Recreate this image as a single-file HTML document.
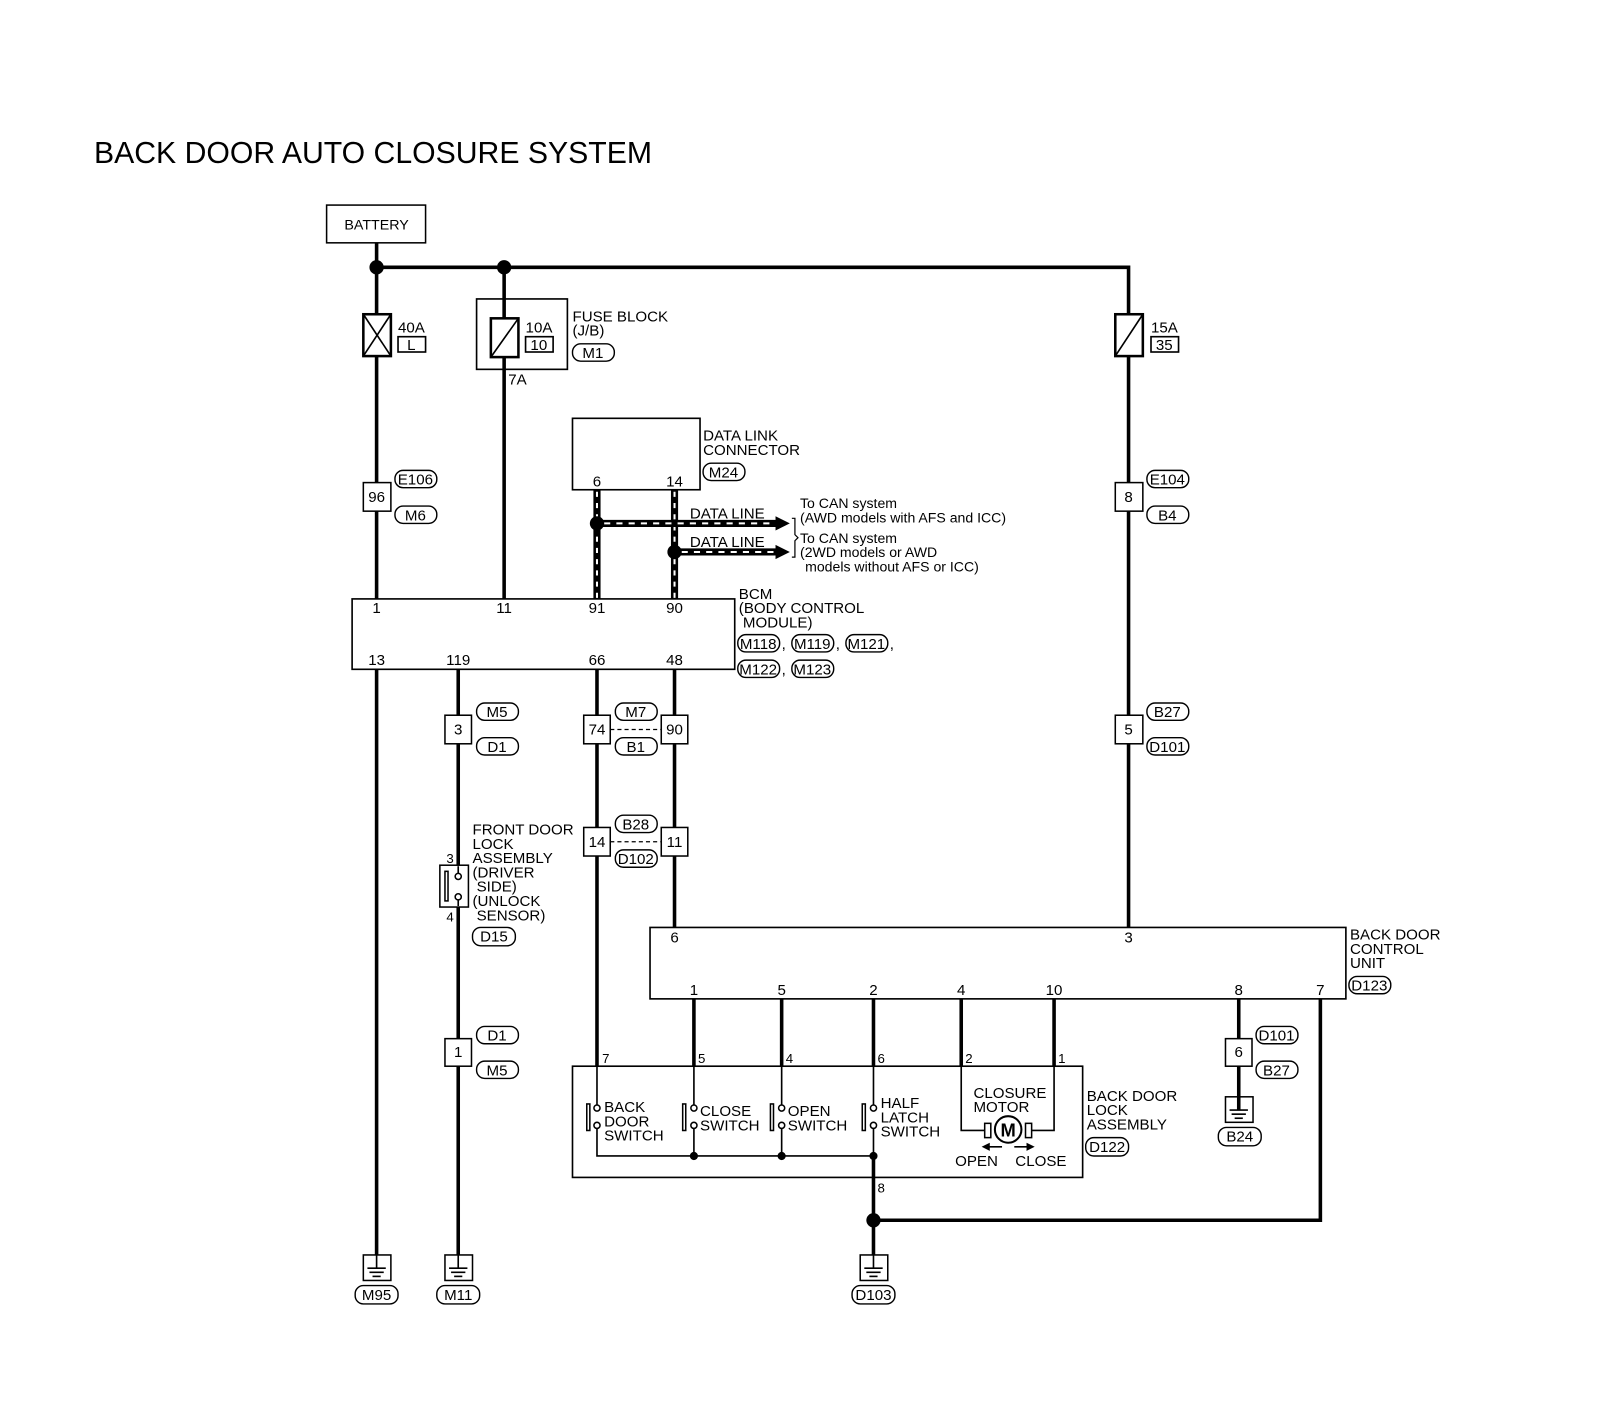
<!DOCTYPE html>
<html><head><meta charset="utf-8"><style>
html,body{margin:0;padding:0;background:#fff;}
svg{display:block;font-family:"Liberation Sans",Arial,sans-serif;}
text{font-size:14.8px;fill:#000;}
.t{stroke:#000;stroke-width:3.5;fill:none}
.n{stroke:#000;stroke-width:1.6;fill:none}
.b{stroke:#000;stroke-width:1.5;fill:#fff}
.o{stroke:#000;stroke-width:1.4;fill:#fff}
.c{text-anchor:middle}
</style></head><body>
<svg width="1598" height="1408" viewBox="0 0 1566 1380" xmlns="http://www.w3.org/2000/svg">
<text x="92" y="160" style="font-size:29.6px">BACK DOOR AUTO CLOSURE SYSTEM</text>

<!-- Battery -->
<rect x="320" y="201" width="97" height="37" class="b"/>
<text x="369" y="225" class="c" style="font-size:14px">BATTERY</text>
<line x1="369" y1="238" x2="369" y2="262" class="t"/>
<polyline points="369,262 1106,262 1106,307" class="t"/>
<circle cx="369" cy="262" r="7"/><circle cx="494" cy="262" r="7"/>

<!-- 40A fuse -->
<line x1="369" y1="262" x2="369" y2="307" class="t"/>
<rect x="356" y="308" width="27" height="41" class="b" style="stroke-width:2.5"/>
<line x1="356" y1="308" x2="383" y2="349" class="n"/><line x1="383" y1="308" x2="356" y2="349" class="n"/>
<text x="390" y="326">40A</text>
<rect x="390" y="330" width="27" height="15" class="n"/>
<text x="403" y="343" class="c">L</text>
<line x1="369" y1="349" x2="369" y2="473" class="t"/>
<!-- conn 96 -->
<rect x="356" y="473" width="27" height="28" class="b"/>
<text x="369" y="492" class="c">96</text>
<rect x="387" y="461" width="41" height="17" rx="8" class="o"/><text x="407" y="475" class="c">E106</text>
<rect x="387" y="496" width="41" height="17" rx="8" class="o"/><text x="407" y="510" class="c">M6</text>
<line x1="369" y1="501" x2="369" y2="587" class="t"/>

<!-- fuse block -->
<line x1="494" y1="262" x2="494" y2="312" class="t"/>
<rect x="467" y="293" width="89" height="69" class="n"/>
<rect x="481" y="312" width="27" height="38" class="b" style="stroke-width:2.5"/>
<line x1="481" y1="350" x2="508" y2="312" class="n"/>
<text x="515" y="326">10A</text>
<rect x="515" y="330" width="27" height="15" class="n"/><text x="528" y="343" class="c">10</text>
<text x="561" y="315">FUSE BLOCK</text><text x="561" y="329">(J/B)</text>
<rect x="561" y="337" width="41" height="17" rx="8" class="o"/><text x="581" y="351" class="c">M1</text>
<line x1="494" y1="350" x2="494" y2="587" class="t"/>
<text x="498" y="377">7A</text>

<!-- 15A -->
<rect x="1093" y="308" width="27" height="41" class="b" style="stroke-width:2.5"/>
<line x1="1093" y1="349" x2="1120" y2="308" class="n"/>
<text x="1128" y="326">15A</text>
<rect x="1128" y="330" width="27" height="15" class="n"/><text x="1141" y="343" class="c">35</text>
<line x1="1106" y1="349" x2="1106" y2="473" class="t"/>
<rect x="1093" y="473" width="27" height="28" class="b"/><text x="1106" y="492" class="c">8</text>
<rect x="1124" y="461" width="41" height="17" rx="8" class="o"/><text x="1144" y="475" class="c">E104</text>
<rect x="1124" y="496" width="41" height="17" rx="8" class="o"/><text x="1144" y="510" class="c">B4</text>
<line x1="1106" y1="501" x2="1106" y2="701" class="t"/>
<rect x="1093" y="701" width="27" height="28" class="b"/><text x="1106" y="720" class="c">5</text>
<rect x="1124" y="689" width="41" height="17" rx="8" class="o"/><text x="1144" y="703" class="c">B27</text>
<rect x="1124" y="723" width="41" height="17" rx="8" class="o"/><text x="1144" y="737" class="c">D101</text>
<line x1="1106" y1="729" x2="1106" y2="909" class="t"/>

<!-- DLC -->
<rect x="561" y="410" width="125" height="70" class="n"/>
<text x="585" y="477" class="c">6</text><text x="661" y="477" class="c">14</text>
<text x="689" y="432">DATA LINK</text><text x="689" y="446">CONNECTOR</text>
<rect x="689" y="454" width="41" height="17" rx="8" class="o"/><text x="709" y="468" class="c">M24</text>

<!-- data lines -->
<g>
<line x1="585" y1="480" x2="585" y2="587" stroke="#000" stroke-width="7"/>
<line x1="585" y1="482" x2="585" y2="587" stroke="#fff" stroke-width="2" stroke-dasharray="5,6"/>
<line x1="661" y1="480" x2="661" y2="587" stroke="#000" stroke-width="7"/>
<line x1="661" y1="482" x2="661" y2="587" stroke="#fff" stroke-width="2" stroke-dasharray="5,6"/>
<line x1="585" y1="513" x2="762" y2="513" stroke="#000" stroke-width="7"/>
<line x1="592" y1="513" x2="760" y2="513" stroke="#fff" stroke-width="2" stroke-dasharray="6,6"/>
<line x1="661" y1="541" x2="762" y2="541" stroke="#000" stroke-width="7"/>
<line x1="668" y1="541" x2="760" y2="541" stroke="#fff" stroke-width="2" stroke-dasharray="6,6"/>
<polygon points="760,506 774,513 760,520"/><polygon points="760,534 774,541 760,548"/>
<circle cx="585" cy="513" r="7"/><circle cx="661" cy="541" r="7"/>
</g>
<text x="676" y="508">DATA LINE</text><text x="676" y="536">DATA LINE</text>
<path d="M776,508 L779,508 L779,524 L782,527 L779,530 L779,546 L776,546" class="n" style="stroke-width:1.2"/>
<text x="784" y="498" style="font-size:13.8px">To CAN system</text>
<text x="784" y="512" style="font-size:13.8px">(AWD models with AFS and ICC)</text>
<text x="784" y="532" style="font-size:13.8px">To CAN system</text>
<text x="784" y="546" style="font-size:13.8px">(2WD models or AWD</text>
<text x="789" y="560" style="font-size:13.8px">models without AFS or ICC)</text>

<!-- BCM -->
<rect x="345" y="587" width="375" height="69" class="n"/>
<text x="369" y="601" class="c">1</text><text x="494" y="601" class="c">11</text><text x="585" y="601" class="c">91</text><text x="661" y="601" class="c">90</text>
<text x="369" y="652" class="c">13</text><text x="449" y="652" class="c">119</text><text x="585" y="652" class="c">66</text><text x="661" y="652" class="c">48</text>
<text x="724" y="587">BCM</text><text x="724" y="601">(BODY CONTROL</text><text x="728" y="615">MODULE)</text>
<rect x="723" y="622" width="41" height="17" rx="8" class="o"/><text x="743" y="636" class="c">M118</text>
<text x="766" y="636">,</text>
<rect x="776" y="622" width="41" height="17" rx="8" class="o"/><text x="796" y="636" class="c">M119</text>
<text x="819" y="636">,</text>
<rect x="829" y="622" width="41" height="17" rx="8" class="o"/><text x="849" y="636" class="c">M121</text>
<text x="872" y="636">,</text>
<rect x="723" y="647" width="41" height="17" rx="8" class="o"/><text x="743" y="661" class="c">M122</text>
<text x="766" y="661">,</text>
<rect x="776" y="647" width="41" height="17" rx="8" class="o"/><text x="796" y="661" class="c">M123</text>

<!-- left ground 13 -->
<line x1="369" y1="656" x2="369" y2="1240" class="t"/>
<rect x="356" y="1230" width="27" height="25" class="b"/>
<line x1="369" y1="1230" x2="369" y2="1243" class="n"/>
<line x1="360" y1="1243" x2="378" y2="1243" class="n"/><line x1="362" y1="1247" x2="376" y2="1247" class="n"/><line x1="365" y1="1251" x2="373" y2="1251" class="n"/>
<rect x="348" y="1260" width="42" height="18" rx="8" class="o"/><text x="369" y="1274" class="c">M95</text>

<!-- 119 line -->
<line x1="449" y1="656" x2="449" y2="701" class="t"/>
<rect x="436" y="701" width="26" height="28" class="b"/><text x="449" y="720" class="c">3</text>
<rect x="467" y="689" width="41" height="17" rx="8" class="o"/><text x="487" y="703" class="c">M5</text>
<rect x="467" y="723" width="41" height="17" rx="8" class="o"/><text x="487" y="737" class="c">D1</text>
<line x1="449" y1="729" x2="449" y2="1018" class="t"/>
<rect x="431" y="848" width="28" height="41" class="b"/>
<rect x="436" y="854" width="3" height="29" class="n" style="stroke-width:1.5"/>
<line x1="449" y1="849" x2="449" y2="888" stroke="#fff" stroke-width="5"/>
<line x1="449" y1="849" x2="449" y2="856" class="n"/><line x1="449" y1="882" x2="449" y2="888" class="n"/>
<circle cx="449" cy="859" r="3" class="b"/><circle cx="449" cy="879" r="3" class="b"/>
<text x="441" y="846" class="c" style="font-size:13px">3</text><text x="441" y="903" class="c" style="font-size:13px">4</text>
<text x="463" y="818">FRONT DOOR</text><text x="463" y="832">LOCK</text><text x="463" y="846">ASSEMBLY</text>
<text x="463" y="860">(DRIVER</text><text x="467" y="874">SIDE)</text><text x="463" y="888">(UNLOCK</text><text x="467" y="902">SENSOR)</text>
<rect x="463" y="909" width="42" height="18" rx="8" class="o"/><text x="484" y="923" class="c">D15</text>
<rect x="436" y="1018" width="26" height="27" class="b"/><text x="449" y="1036" class="c">1</text>
<rect x="467" y="1006" width="41" height="17" rx="8" class="o"/><text x="487" y="1020" class="c">D1</text>
<rect x="467" y="1040" width="41" height="17" rx="8" class="o"/><text x="487" y="1054" class="c">M5</text>
<line x1="449" y1="1045" x2="449" y2="1240" class="t"/>
<rect x="436" y="1230" width="27" height="25" class="b"/>
<line x1="449" y1="1230" x2="449" y2="1243" class="n"/>
<line x1="440" y1="1243" x2="458" y2="1243" class="n"/><line x1="442" y1="1247" x2="456" y2="1247" class="n"/><line x1="445" y1="1251" x2="453" y2="1251" class="n"/>
<rect x="428" y="1260" width="42" height="18" rx="8" class="o"/><text x="449" y="1274" class="c">M11</text>

<!-- 66 & 48 -->
<line x1="585" y1="656" x2="585" y2="1045" class="t"/>
<line x1="661" y1="656" x2="661" y2="909" class="t"/>
<rect x="572" y="701" width="26" height="28" class="b"/><text x="585" y="720" class="c">74</text>
<rect x="648" y="701" width="26" height="28" class="b"/><text x="661" y="720" class="c">90</text>
<line x1="598" y1="715" x2="648" y2="715" class="n" style="stroke-dasharray:4,3;stroke-width:1.3"/>
<rect x="603" y="689" width="41" height="17" rx="8" class="o"/><text x="623" y="703" class="c">M7</text>
<rect x="603" y="723" width="41" height="17" rx="8" class="o"/><text x="623" y="737" class="c">B1</text>
<rect x="572" y="811" width="26" height="28" class="b"/><text x="585" y="830" class="c">14</text>
<rect x="648" y="811" width="26" height="28" class="b"/><text x="661" y="830" class="c">11</text>
<line x1="598" y1="825" x2="648" y2="825" class="n" style="stroke-dasharray:4,3;stroke-width:1.3"/>
<rect x="603" y="799" width="41" height="17" rx="8" class="o"/><text x="623" y="813" class="c">B28</text>
<rect x="603" y="833" width="41" height="17" rx="8" class="o"/><text x="623" y="847" class="c">D102</text>

<!-- BDCU -->
<rect x="637" y="909" width="682" height="70" class="n"/>
<text x="661" y="924" class="c">6</text><text x="1106" y="924" class="c">3</text>
<text x="680" y="975" class="c">1</text><text x="766" y="975" class="c">5</text><text x="856" y="975" class="c">2</text><text x="942" y="975" class="c">4</text><text x="1033" y="975" class="c">10</text><text x="1214" y="975" class="c">8</text><text x="1294" y="975" class="c">7</text>
<text x="1323" y="921">BACK DOOR</text><text x="1323" y="935">CONTROL</text><text x="1323" y="949">UNIT</text>
<rect x="1322" y="957" width="41" height="17" rx="8" class="o"/><text x="1342" y="971" class="c">D123</text>

<!-- pin 8 ground -->
<line x1="1214" y1="979" x2="1214" y2="1085" class="t"/>
<rect x="1201" y="1018" width="26" height="27" class="b"/><text x="1214" y="1036" class="c">6</text>
<rect x="1231" y="1006" width="41" height="17" rx="8" class="o"/><text x="1251" y="1020" class="c">D101</text>
<rect x="1231" y="1040" width="41" height="17" rx="8" class="o"/><text x="1251" y="1054" class="c">B27</text>
<rect x="1201" y="1075" width="27" height="25" class="b"/>
<line x1="1214" y1="1075" x2="1214" y2="1088" class="t"/>
<line x1="1205" y1="1088" x2="1223" y2="1088" class="n"/><line x1="1207" y1="1092" x2="1221" y2="1092" class="n"/><line x1="1210" y1="1096" x2="1218" y2="1096" class="n"/>
<rect x="1194" y="1105" width="42" height="18" rx="8" class="o"/><text x="1215" y="1119" class="c">B24</text>

<!-- lock assembly -->
<line x1="680" y1="979" x2="680" y2="1045" class="t"/>
<line x1="766" y1="979" x2="766" y2="1045" class="t"/>
<line x1="856" y1="979" x2="856" y2="1045" class="t"/>
<line x1="942" y1="979" x2="942" y2="1045" class="t"/>
<line x1="1033" y1="979" x2="1033" y2="1045" class="t"/>
<rect x="561" y="1045" width="500" height="109" class="n"/>
<text x="590" y="1042" style="font-size:13px">7</text><text x="684" y="1042" style="font-size:13px">5</text><text x="770" y="1042" style="font-size:13px">4</text><text x="860" y="1042" style="font-size:13px">6</text><text x="946" y="1042" style="font-size:13px">2</text><text x="1037" y="1042" style="font-size:13px">1</text>
<g class="n">
<polyline points="585,1045 585,1083"/><polyline points="585,1106 585,1133 856,1133"/>
<polyline points="680,1045 680,1083"/><polyline points="680,1106 680,1133"/>
<polyline points="766,1045 766,1083"/><polyline points="766,1106 766,1133"/>
<polyline points="856,1045 856,1083"/><polyline points="856,1106 856,1133"/>
</g>
<line x1="856" y1="1133" x2="856" y2="1240" class="t"/>
<g class="b">
<circle cx="585" cy="1086" r="3"/><circle cx="585" cy="1103" r="3"/><rect x="575" y="1082" width="3" height="26"/>
<circle cx="680" cy="1086" r="3"/><circle cx="680" cy="1103" r="3"/><rect x="669" y="1082" width="3" height="26"/>
<circle cx="766" cy="1086" r="3"/><circle cx="766" cy="1103" r="3"/><rect x="755" y="1082" width="3" height="26"/>
<circle cx="856" cy="1086" r="3"/><circle cx="856" cy="1103" r="3"/><rect x="845" y="1082" width="3" height="26"/>
</g>
<circle cx="680" cy="1133" r="4"/><circle cx="766" cy="1133" r="4"/><circle cx="856" cy="1133" r="4"/>
<text x="592" y="1090">BACK</text><text x="592" y="1104">DOOR</text><text x="592" y="1118">SWITCH</text>
<text x="686" y="1094">CLOSE</text><text x="686" y="1108">SWITCH</text>
<text x="772" y="1094">OPEN</text><text x="772" y="1108">SWITCH</text>
<text x="863" y="1086">HALF</text><text x="863" y="1100">LATCH</text><text x="863" y="1114">SWITCH</text>
<!-- motor -->
<polyline points="942,1045 942,1108 970,1108" class="n"/>
<polyline points="1033,1045 1033,1108 1006,1108" class="n"/>
<rect x="965" y="1101" width="6" height="14" class="b"/><rect x="1005" y="1101" width="6" height="14" class="b"/>
<circle cx="988" cy="1107" r="13" class="b" style="stroke-width:2"/>
<text x="988" y="1114" class="c" style="font-size:18px;font-weight:bold">M</text>
<text x="954" y="1076">CLOSURE</text><text x="954" y="1090">MOTOR</text>
<line x1="968" y1="1124" x2="982" y2="1124" class="n"/><polygon points="962,1124 970,1120 970,1128"/>
<line x1="994" y1="1124" x2="1008" y2="1124" class="n"/><polygon points="1014,1124 1006,1120 1006,1128"/>
<text x="936" y="1143">OPEN</text><text x="995" y="1143">CLOSE</text>
<text x="1065" y="1079">BACK DOOR</text><text x="1065" y="1093">LOCK</text><text x="1065" y="1107">ASSEMBLY</text>
<rect x="1064" y="1115" width="42" height="18" rx="8" class="o"/><text x="1085" y="1129" class="c">D122</text>
<text x="860" y="1169" style="font-size:13px">8</text>
<polyline points="856,1196 1294,1196 1294,979" class="t"/>
<circle cx="856" cy="1196" r="7"/>
<rect x="843" y="1230" width="27" height="25" class="b"/>
<line x1="856" y1="1230" x2="856" y2="1243" class="n"/>
<line x1="847" y1="1243" x2="865" y2="1243" class="n"/><line x1="849" y1="1247" x2="863" y2="1247" class="n"/><line x1="852" y1="1251" x2="860" y2="1251" class="n"/>
<rect x="835" y="1260" width="42" height="18" rx="8" class="o"/><text x="856" y="1274" class="c">D103</text>
</svg>
</body></html>
